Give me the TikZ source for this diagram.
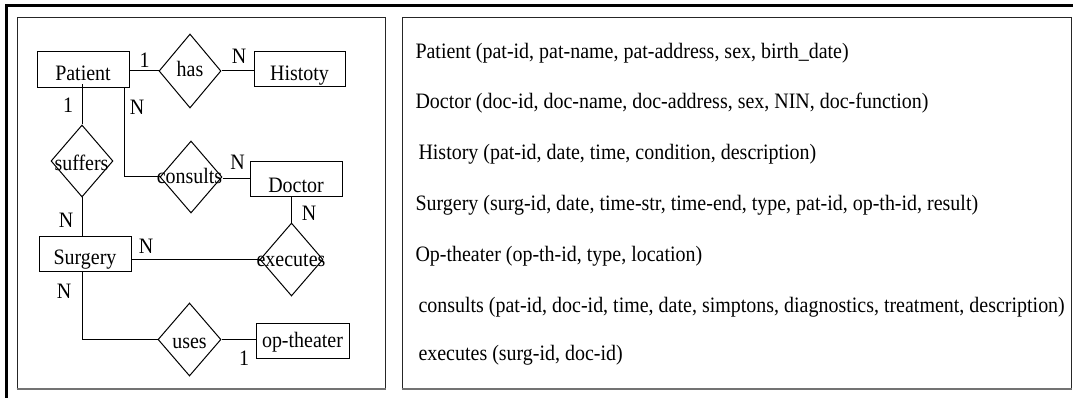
\documentclass[tikz,border=0pt]{standalone}
\usepackage{fontspec}
\setmainfont{Liberation Serif}[FakeStretch=0.908]
\usetikzlibrary{shapes.geometric}
\begin{document}
\begin{tikzpicture}[x=1pt,y=-1pt,
  font=\fontsize{22}{26}\selectfont, line width=1pt,
  ent/.style={draw, rectangle, inner sep=0pt, anchor=base},
  rel/.style={draw, diamond, inner sep=0pt},
  lbl/.style={inner sep=0pt, anchor=base},
  card/.style={inner sep=0pt, anchor=base},
  schema/.style={inner sep=0pt, anchor=base west},
  panel/.style={draw=black!85, line width=1pt},
  panelbottom/.style={draw=black!55, line width=2pt}]
\useasboundingbox (0,0) rectangle (1073,398);
\fill[white] (0,0) rectangle (1073,398);
% outer frame
\draw[line width=3pt] (6.5,398) -- (6.5,5.5) -- (1073,5.5);
% panels
\draw[panel] (17,389) -- (17,18) -- (385.5,18) -- (385.5,389);
\draw[panelbottom] (16.5,389) -- (386,389);
\draw[panel] (402,389) -- (402,18) -- (1071.5,18) -- (1071.5,389);
\draw[panelbottom] (401.5,389) -- (1072,389);

% entities
\node[ent, minimum width=92pt, text height=29pt, text depth=7pt] (patient) at (83,81) {Patient};
\node[ent, minimum width=91pt, text height=29pt, text depth=6pt] (history) at (299.5,81) {Histoty};
\node[ent, minimum width=92pt, text height=31pt, text depth=4pt] (doctor) at (296,193) {Doctor};
\node[ent, minimum width=92pt, text height=28pt, text depth=7pt] (surgery) at (85,264) {Surgery};
\node[ent, minimum width=93pt, text height=24pt, text depth=11pt] (optheater) at (302.5,347) {op-theater};

% relationships
\node[rel, minimum width=62pt, minimum height=74pt] (has) at (190,71) {};
\node[rel, minimum width=62pt, minimum height=72pt] (suffers) at (82,161) {};
\node[rel, minimum width=62pt, minimum height=72pt] (consults) at (191,177) {};
\node[rel, minimum width=63pt, minimum height=73pt] (executes) at (291.5,259.5) {};
\node[rel, minimum width=63pt, minimum height=73pt] (uses) at (189.5,339.5) {};
\node[lbl] (hasT) at (190,77) {has};
\node[lbl] (suffersT) at (81.5,171) {suffers};
\node[lbl] (consultsT) at (189.5,184) {consults};
\node[lbl] (executesT) at (291,266) {executes};
\node[lbl] (usesT) at (189.5,348) {uses};

% connectors
\draw (has.west) -- (has.west -| patient.east);
\draw (has.east) -- (has.east -| history.west);
\draw (suffers.north) -- ([yshift=4pt]suffers.north |- patient.south);
\draw (suffers.south) -- (suffers.south |- surgery.north);
\draw ([xshift=41pt]patient.south) |- (consults.west);
\draw ([yshift=-2pt]consults.east) -- ([yshift=-2pt]consults.east -| doctor.west);
\draw (executes.north) -- (executes.north |- doctor.south);
\draw (executes.west) -- (executes.west -| surgery.east);
\draw ([xshift=-3pt]surgery.south) |- (uses.west);
\draw (uses.east) -- (uses.east -| optheater.west);

% cardinalities
\node[card] (c1) at (144.5,68) {1};
\node[card] (c2) at (239,64) {N};
\node[card] (c3) at (68,113) {1};
\node[card] (c4) at (137,115) {N};
\node[card] (c5) at (237.5,170) {N};
\node[card] (c6) at (309,220) {N};
\node[card] (c7) at (66,227) {N};
\node[card] (c8) at (146,253) {N};
\node[card] (c9) at (64,298) {N};
\node[card] (c10) at (244,365) {1};

% relational schema
\node[schema] (s1) at (415,59) {Patient (pat-id, pat-name, pat-address, sex, birth\_date)};
\node[schema] (s2) at (415,109) {Doctor (doc-id, doc-name, doc-address, sex, NIN, doc-function)};
\node[schema] (s3) at (418,160) {History (pat-id, date, time, condition, description)};
\node[schema] (s4) at (415,211) {Surgery (surg-id, date, time-str, time-end, type, pat-id, op-th-id, result)};
\node[schema] (s5) at (415,261) {Op-theater (op-th-id, type, location)};
\node[schema] (s6) at (418,312) {consults (pat-id, doc-id, time, date, simptons, diagnostics, treatment, description)};
\node[schema] (s7) at (418,360) {executes (surg-id, doc-id)};
\end{tikzpicture}
\end{document}
